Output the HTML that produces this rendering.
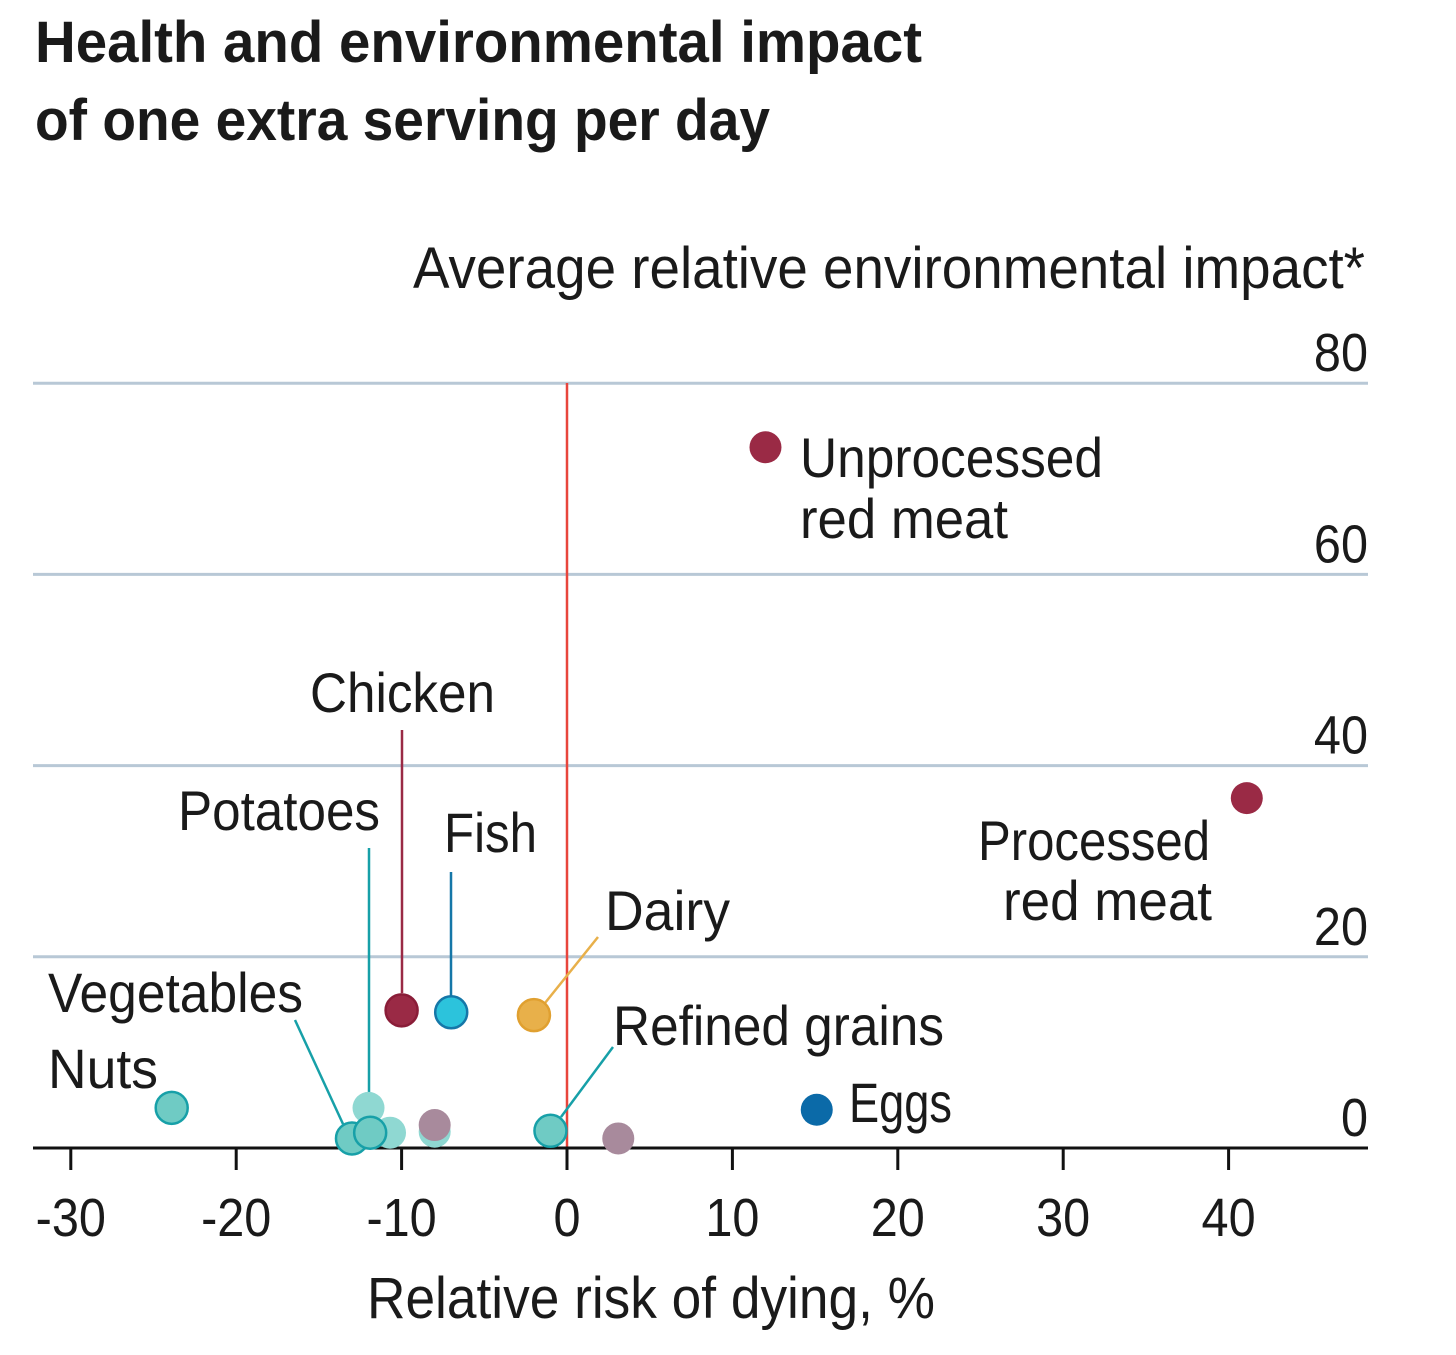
<!DOCTYPE html>
<html><head><meta charset="utf-8"><style>
body{margin:0;background:#fff;}
svg{display:block;font-family:"Liberation Sans",sans-serif;}
</style></head><body>
<svg id="chart" width="1456" height="1355" viewBox="0 0 1456 1355" xmlns="http://www.w3.org/2000/svg">
<text x="35" y="62" font-size="58" font-weight="bold" fill="#1a1a1a" textLength="887" lengthAdjust="spacingAndGlyphs">Health and environmental impact</text>
<text x="35" y="140" font-size="58" font-weight="bold" fill="#1a1a1a" textLength="735" lengthAdjust="spacingAndGlyphs">of one extra serving per day</text>
<text x="413" y="288" font-size="58" fill="#1a1a1a" textLength="952" lengthAdjust="spacingAndGlyphs">Average relative environmental impact*</text>
<text x="367" y="1318" font-size="58" fill="#1a1a1a" textLength="568" lengthAdjust="spacingAndGlyphs">Relative risk of dying, %</text>
<g id="grid"></g><g id="marks"></g>
</svg>
<script>
const xTicks=[-30,-20,-10,0,10,20,30,40];
const yTicks=[0,20,40,60,80];
const names=["Unprocessed red meat","Processed red meat","Chicken","Fish","Dairy","Eggs","Refined grains","Potatoes","Vegetables","Nuts","Potatoes-2","Vegetables-2","Other-teal","Other-grey","Other-grey-2"];
const xVals=[12.0,41.1,-10.0,-7.0,-2.0,15.1,-1.0,-11.9,-13.0,-23.9,-12.0,-10.7,-8.0,-8.0,3.1];
const yVals=[73.3,36.6,14.4,14.2,13.9,4.0,1.8,1.6,1.0,4.2,4.2,1.6,1.7,2.4,1.0];
const fills=["#9a2a45","#9a2a45","#9a2a45","#2cc3dc","#e8b04a","#0b6aa8","#6fcbc4","#6fcbc4","#6fcbc4","#6fcbc4","#8fd8d2","#8fd8d2","#8fd8d2","#a88a9c","#a88a9c"];
const strokes=["none","none","#8a1d38","#1577a8","#e0a030","none","#17a0a8","#17a0a8","#17a0a8","#17a0a8","none","none","none","none","none"];
const X=v=>567+v*16.54, Y=v=>1148-v*9.56;
const NS="http://www.w3.org/2000/svg";
const g=document.getElementById('grid'), m=document.getElementById('marks');
function mk(tag,at,par){const e=document.createElementNS(NS,tag);for(const k in at)e.setAttribute(k,at[k]);par.appendChild(e);return e;}
yTicks.forEach(t=>{
 if(t>0){const l=mk('line',{x1:33,x2:1368,y1:Y(t),y2:Y(t),stroke:'#b8c8d6','stroke-width':3},g);
 
 }
 const tx=mk('text',{x:1368,y:Y(t)-12,'font-size':54,'text-anchor':'end',fill:'#1a1a1a',transform:'translate('+(1368*0.1)+',0) scale(0.9,1)'},g);tx.textContent=t;
 
 
});
xTicks.forEach(t=>{
 const l=mk('line',{x1:X(t),x2:X(t),y1:1148,y2:1170,stroke:'#111','stroke-width':3},g);
 
 
 const tx=mk('text',{x:X(t),y:1236,'font-size':54,'text-anchor':'middle',fill:'#1a1a1a',transform:'translate('+(X(t)*0.1)+',0) scale(0.9,1)'},g);tx.textContent=t;
 
 
});
const zl=mk('line',{x1:X(0),x2:X(0),y1:383,y2:1148,stroke:'#e8453c','stroke-width':2.5},g);


const ax=mk('line',{x1:33,x2:1368,y1:1148,y2:1148,stroke:'#111','stroke-width':3},g);


const leaders=[[402,730,402,993,'#9a2a45'],[369,848,369,1117,'#17a0a8'],[451,872,451,996,'#1577a8'],[598,937,545,1003,'#e8b04a'],[295,1020,343,1124,'#17a0a8'],[613,1047,561,1117,'#17a0a8']];
leaders.forEach((d,i)=>{const l=mk('line',{x1:d[0],y1:d[1],x2:d[2],y2:d[3],stroke:d[4],'stroke-width':2.5},m);
 
 });
const order=[10,11,12,13,14,0,1,2,3,4,5,6,8,7,9];
order.forEach(i=>{
 const c=mk('circle',{cx:X(xVals[i]),cy:Y(yVals[i]),r:16,fill:fills[i],stroke:strokes[i],'stroke-width':2.5},m);
 
 
});
const labels=[["Unprocessed",800,477,303],["red meat",800,538,208],["Processed",978,860,232],["red meat",1003,920,209],["Chicken",310,712,185],["Potatoes",178,830,202],["Fish",444,852,93],["Dairy",605,930,125],["Vegetables",48,1012,255],["Nuts",48,1088,110],["Refined grains",613,1045,331],["Eggs",849,1122,103]];
labels.forEach(d=>{
 const t=mk('text',{x:d[1],y:d[2],'font-size':56,fill:'#1a1a1a',textLength:d[3],lengthAdjust:'spacingAndGlyphs'},m);t.textContent=d[0];
 
 
});
</script>
</body></html>
